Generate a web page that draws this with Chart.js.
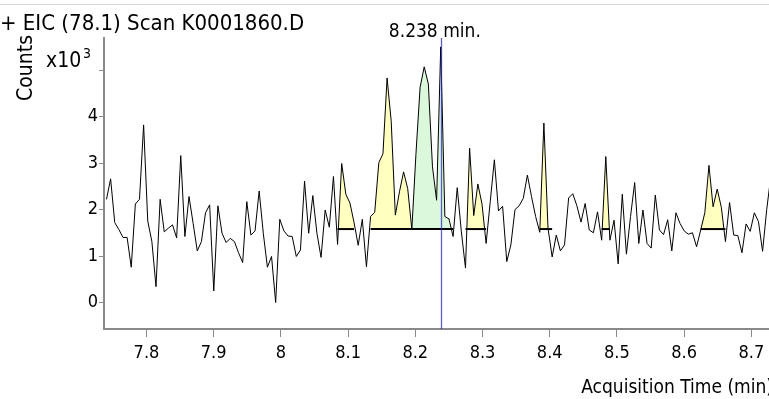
<!DOCTYPE html>
<html>
<head>
<meta charset="utf-8">
<script src="https://cdn.jsdelivr.net/npm/chart.js@4/dist/chart.umd.min.js"></script>
<style>
  html, body { margin: 0; padding: 0; background: #fff; }
  #wrap { position: relative; width: 769px; height: 399px; }
</style>
</head>
<body>
<div id="wrap"><canvas id="eic" width="769" height="399"></canvas></div>
<script>
// EIC (78.1) 크로마토그램 - 값은 x10^3 counts
const titleText = '+ EIC (78.1) Scan K0001860.D';
const scanStart = 7.7405;      // 첫 스캔 시각 (min)
const scanInterval = 0.00614;  // 스캔 간격 (min)
const counts = [
    2.22, 2.66, 1.72, 1.57, 1.40, 1.40, 0.76, 2.12, 2.22, 3.82,
    1.75, 1.31, 0.34, 2.22, 1.52, 1.60, 1.67, 1.39, 3.16, 1.42,
    2.28, 1.70, 1.11, 1.31, 1.93, 2.10, 0.25, 2.08, 1.49, 1.29,
    1.38, 1.31, 1.07, 0.86, 2.17, 1.45, 1.54, 2.40, 1.49, 0.76,
    0.99, 0.00, 1.79, 1.54, 1.43, 1.42, 0.99, 1.13, 2.61, 1.49,
    2.30, 1.49, 0.97, 1.99, 1.62, 2.71, 1.25, 2.99, 2.33, 2.14,
    1.72, 1.23, 1.79, 0.77, 1.85, 1.94, 3.01, 3.20, 4.83, 3.90,
    1.88, 2.38, 2.81, 2.45, 1.57, 3.20, 4.63, 5.07, 4.70, 2.92,
    2.20, 5.50, 1.85, 1.80, 1.42, 2.47, 1.52, 0.74, 3.32, 1.87,
    2.55, 2.12, 1.27, 2.17, 3.07, 1.97, 2.07, 0.88, 1.24, 2.00,
    2.08, 2.24, 2.74, 2.28, 1.85, 1.51, 3.86, 1.60, 0.98, 1.45,
    1.11, 1.24, 2.25, 2.34, 2.08, 1.73, 2.13, 1.56, 1.50, 1.95,
    1.34, 3.14, 1.34, 1.77, 0.83, 2.33, 1.04, 1.85, 2.58, 1.27,
    1.99, 1.27, 1.17, 2.31, 1.56, 1.46, 1.78, 1.11, 1.93, 1.70,
    1.54, 1.47, 1.50, 1.20, 1.56, 1.93, 2.95, 2.06, 2.44, 2.05,
    1.31, 2.15, 1.45, 1.44, 1.07, 1.69, 1.53, 1.93, 1.74, 1.10,
    2.00, 2.72
];

// 적분된 피크 (스캔 번호 범위, 베이스라인 높이)
const peakFirstScan = [56, 64, 74, 87, 105, 120, 144];
const peakLastScan  = [60, 74, 84, 92, 108, 122, 150];
const peakBaseline  = [1.58, 1.58, 1.58, 1.58, 1.58, 1.58, 1.58];
const peakSelected  = [false, false, true, false, false, false, false];

const markerTime = 8.238;
const markerLabel = '8.238 min.';

const xTicksMin = 7.7368, xTicksMax = 8.7263;
const yMin = -0.57, yMax = 5.69;

const FONT = "'DejaVu Sans Condensed', 'DejaVu Sans', sans-serif";
const AXIS_GRAY = '#8a8a8a';

const times = counts.map((_, i) => scanStart + i * scanInterval);
const trace = counts.map((c, i) => ({ x: times[i], y: c }));

const datasets = [];

// 피크 채우기 (베이스라인 위쪽만)
peakFirstScan.forEach((first, k) => {
    const last = peakLastScan[k];
    datasets.push({
        data: trace.slice(first, last + 1),
        borderWidth: 0,
        pointRadius: 0,
        fill: {
            target: { value: peakBaseline[k] },
            above: peakSelected[k] ? '#dcf8dc' : '#ffffc0',
            below: 'rgba(0,0,0,0)'
        },
        order: 3
    });
});

// 피크 베이스라인
peakFirstScan.forEach((first, k) => {
    const last = peakLastScan[k];
    datasets.push({
        data: [
            { x: times[first], y: peakBaseline[k] },
            { x: times[last], y: peakBaseline[k] }
        ],
        borderColor: '#000',
        borderWidth: 2,
        pointRadius: 0,
        fill: false,
        order: 2
    });
});

// 신호
datasets.push({
    data: trace,
    borderColor: '#000',
    borderWidth: 1,
    pointRadius: 0,
    fill: false,
    order: 1
});

// 축 밖 텍스트와 RT 마커
const decorations = {
    id: 'decorations',
    afterDatasetsDraw(chart) {
        const { ctx, chartArea, scales } = chart;
        const mx = Math.round(scales.x.getPixelForValue(markerTime)) + 0.5;
        ctx.save();
        ctx.globalAlpha = 0.75;
        ctx.strokeStyle = '#2a2ab8';
        ctx.lineWidth = 1.3;
        ctx.beginPath();
        ctx.moveTo(mx, chartArea.top);
        ctx.lineTo(mx, chartArea.bottom);
        ctx.stroke();
        ctx.restore();
    },
    afterDraw(chart) {
        const { ctx, scales } = chart;
        ctx.save();

        // 윗 테두리
        ctx.fillStyle = '#d8d8d8';
        ctx.fillRect(0, 4, 769, 1);
        ctx.fillStyle = '#000';

        ctx.font = '22px ' + FONT;
        ctx.textAlign = 'left';
        ctx.textBaseline = 'alphabetic';
        ctx.fillText(titleText, 0, 30);

        // 마커 라벨
        const mx = scales.x.getPixelForValue(markerTime);
        ctx.font = '19px ' + FONT;
        ctx.textAlign = 'center';
        ctx.fillText(markerLabel, mx - 6, 37);

        // x10^3
        ctx.font = '21px ' + FONT;
        ctx.textAlign = 'left';
        ctx.fillText('x10', 46, 67);
        ctx.font = '14px ' + FONT;
        ctx.fillText('3', 83, 58);

        // Counts
        ctx.font = '21px ' + FONT;
        ctx.save();
        ctx.translate(27, 68);
        ctx.rotate(-Math.PI / 2);
        ctx.textAlign = 'center';
        ctx.textBaseline = 'middle';
        ctx.fillText('Counts', 0, 0);
        ctx.restore();

        // x축 제목
        ctx.font = '19px ' + FONT;
        ctx.textAlign = 'right';
        ctx.fillText('Acquisition Time (min)', 773, 393);
        ctx.restore();
    }
};

new Chart(document.getElementById('eic'), {
    type: 'line',
    data: { datasets },
    options: {
        responsive: false,
        animation: false,
        events: [],
        layout: { padding: { top: 38, left: 0, right: 0, bottom: 0 } },
        plugins: { legend: { display: false }, tooltip: { enabled: false } },
        elements: { line: { tension: 0 } },
        scales: {
            x: {
                type: 'linear',
                min: xTicksMin,
                max: xTicksMax,
                ticks: {
                    stepSize: 0.1,
                    includeBounds: false,
                    maxRotation: 0,
                    autoSkip: false,
                    color: '#000',
                    padding: 6,
                    font: { size: 18, family: FONT },
                    callback: v => String(Number(v.toFixed(2)))
                },
                grid: {
                    drawOnChartArea: false,
                    drawTicks: true,
                    tickLength: 8,
                    color: AXIS_GRAY
                },
                border: { display: true, color: AXIS_GRAY, width: 2 },
                afterFit(s) { s.height = 70; s.paddingLeft = 0; s.paddingRight = 0; }
            },
            y: {
                min: yMin,
                max: yMax,
                ticks: {
                    stepSize: 1,
                    includeBounds: false,
                    color: '#000',
                    padding: 1,
                    font: { size: 18, family: FONT },
                    callback: v => (v === 5 ? '' : v)
                },
                grid: {
                    drawOnChartArea: false,
                    drawTicks: true,
                    tickLength: 5,
                    color: AXIS_GRAY
                },
                border: { display: true, color: AXIS_GRAY, width: 2 },
                afterFit(s) { s.width = 104; s.paddingTop = 0; s.paddingBottom = 0; }
            }
        }
    },
    plugins: [decorations]
});
</script>
</body>
</html>
